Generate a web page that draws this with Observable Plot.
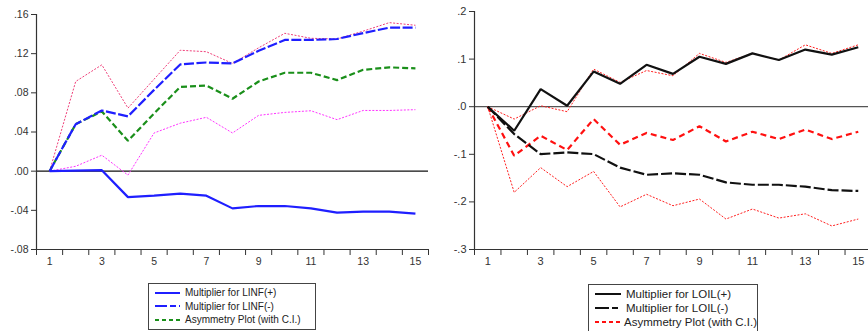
<!DOCTYPE html>
<html><head><meta charset="utf-8">
<script src="https://cdn.jsdelivr.net/npm/d3@7"></script>
<script src="https://cdn.jsdelivr.net/npm/@observablehq/plot@0.6"></script>
<style>
body{margin:0;background:#fff;font-family:"Liberation Sans",Arial,sans-serif;}
#wrap{position:relative;width:868px;height:331px;overflow:hidden;background:#fff;}
.panel{position:absolute;top:0;}
.legend{position:absolute;border:1px solid #444;background:#fff;color:#222;}
.legend .row{display:flex;align-items:center;white-space:nowrap;}
.legend svg{display:block;}
</style></head><body>
<div id="wrap"></div>
<script>
const horizon = d3.range(1, 16);
const oddTicks = [1,3,5,7,9,11,13,15];
const boundaryTicks = d3.range(0.5, 16, 1);

// Left panel (LINF)
const linfPos = [0,0.0005,0.001,-0.0265,-0.025,-0.023,-0.025,-0.038,-0.0356,-0.0356,-0.038,-0.0424,-0.0414,-0.0414,-0.0434];
const linfNeg = [0,0.048,0.062,0.056,0.083,0.109,0.111,0.110,0.123,0.134,0.134,0.135,0.141,0.1466,0.1466];
const linfAsym = [0,0.048,0.061,0.031,0.059,0.086,0.0875,0.074,0.0916,0.1005,0.1005,0.093,0.1035,0.106,0.105];
const linfUpper = [0,0.0916,0.1086,0.0644,0.094,0.1235,0.122,0.110,0.126,0.1408,0.1357,0.135,0.143,0.1517,0.149];
const linfLower = [0,0.005,0.0163,-0.004,0.039,0.049,0.055,0.039,0.057,0.060,0.0617,0.0526,0.062,0.062,0.0628];
const linfYTicks = [0.16,0.12,0.08,0.04,0,-0.04,-0.08];
const linfYLabels = [".16",".12",".08",".04",".00","-.04","-.08"];
const linfLegend = ["Multiplier for LINF(+)","Multiplier for LINF(-)","Asymmetry Plot (with C.I.)"];

// Right panel (LOIL)
const loilPos = [0,-0.0505,0.037,0.002,0.0737,0.048,0.088,0.069,0.105,0.090,0.112,0.098,0.120,0.1095,0.125];
const loilNeg = [0,-0.0575,-0.0996,-0.096,-0.0996,-0.128,-0.143,-0.140,-0.143,-0.159,-0.164,-0.164,-0.168,-0.1754,-0.177];
const loilAsym = [0,-0.103,-0.061,-0.091,-0.026,-0.080,-0.055,-0.070,-0.041,-0.073,-0.0526,-0.068,-0.048,-0.068,-0.0526];
const loilUpper = [0,-0.026,0.002,-0.0105,0.079,0.051,0.076,0.065,0.112,0.093,0.112,0.098,0.130,0.112,0.130];
const loilLower = [0,-0.180,-0.128,-0.168,-0.136,-0.2105,-0.184,-0.208,-0.194,-0.236,-0.215,-0.234,-0.225,-0.2505,-0.236];
const loilYTicks = [0.2,0.1,0,-0.1,-0.2,-0.3];
const loilYLabels = [".2",".1",".0","-.1","-.2","-.3"];
const loilLegend = ["Multiplier for LOIL(+)","Multiplier for LOIL(-)","Asymmetry Plot (with C.I.)"];

function rows(vals){ return horizon.map((h,i)=>({h, v: vals[i]})); }

function panel(opts){
  const {series, yDomain, yTicks, yLabels, width, marginLeft, marginRight, marginTop, fontSize} = opts;
  const labelMap = new Map(yTicks.map((t,i)=>[t, yLabels[i]]));
  const marks = [
    Plot.ruleY([0], {stroke: opts.zeroColor, strokeWidth: 1.2}),
    ...series.map(s => Plot.line(rows(s.values), {x:"h", y:"v", stroke:s.color, strokeWidth:s.width, strokeDasharray:s.dash, strokeLinejoin:"miter", strokeLinecap:"butt"})),
    Plot.ruleX([0.5], {stroke:"#333", strokeWidth:1.2}),
    Plot.ruleY([yDomain[0]], {stroke:"#333", strokeWidth:1.2}),
    Plot.axisY({ticks: yTicks, tickSize: 5, tickPadding: 3, tickFormat: d => labelMap.get(d), stroke:"#333", fill:"#333", fontSize, label:null}),
    Plot.axisX({ticks: boundaryTicks, tickSize: 6, tickFormat: () => "", stroke:"#333", label:null}),
    Plot.axisX({ticks: oddTicks, tickSize: 0, tickPadding: 8, tickFormat: d => String(d), fill:"#333", fontSize, label:null})
  ];
  return Plot.plot({
    width, height: 275, marginLeft, marginRight, marginTop, marginBottom: 26,
    style: {fontFamily: '"Liberation Sans", Arial, sans-serif', background: "transparent", overflow: "visible"},
    x: {domain: [0.5, 15.5]},
    y: {domain: yDomain},
    marks
  });
}

const wrap = document.getElementById("wrap");

const left = panel({
  series: [
    {values: linfUpper, color:"#f0407a", width:1, dash:"2,1.5"},
    {values: linfLower, color:"#ff33ff", width:1, dash:"2,1.5"},
    {values: linfAsym, color:"#1a8f1a", width:2.2, dash:"6,3"},
    {values: linfNeg, color:"#1f1fff", width:2.2, dash:"10,2.5"},
    {values: linfPos, color:"#1f1fff", width:2.2, dash:null}
  ],
  yDomain: [-0.08, 0.16], yTicks: linfYTicks, yLabels: linfYLabels,
  width: 434, marginLeft: 36, marginRight: 6, marginTop: 14, fontSize: "10.5px", zeroColor:"#111"
});
left.classList.add("panel"); left.style.left = "0px";
wrap.appendChild(left);

const right = panel({
  series: [
    {values: loilUpper, color:"#ff2020", width:1, dash:"2,1.5"},
    {values: loilLower, color:"#ff2020", width:1, dash:"2,1.5"},
    {values: loilAsym, color:"#ff1010", width:2.2, dash:"6,4"},
    {values: loilNeg, color:"#111", width:2.2, dash:"11,3"},
    {values: loilPos, color:"#111", width:2.2, dash:null}
  ],
  yDomain: [-0.3, 0.2], yTicks: loilYTicks, yLabels: loilYLabels,
  width: 437, marginLeft: 40, marginRight: 0, marginTop: 11, fontSize: "11px", zeroColor:"#555"
});
right.classList.add("panel"); right.style.left = "434px";
wrap.appendChild(right);

function legend(x, y, w, h, labels, styles, fontSize, rowH, sampleW){
  const box = document.createElement("div");
  box.className = "legend";
  Object.assign(box.style, {left:x+"px", top:y+"px", width:w+"px", height:h+"px", fontSize, padding:"2px 0 0 6px", boxSizing:"border-box"});
  labels.forEach((lab, i) => {
    const r = document.createElement("div");
    r.className = "row"; r.style.height = rowH + "px";
    const s = d3.create("svg").attr("width", sampleW + 5).attr("height", 8);
    s.append("line").attr("x1",0).attr("x2",sampleW).attr("y1",4).attr("y2",4)
      .attr("stroke", styles[i].color).attr("stroke-width", 2)
      .attr("stroke-dasharray", styles[i].dash || null);
    r.appendChild(s.node());
    const t = document.createElement("span"); t.textContent = lab;
    r.appendChild(t);
    box.appendChild(r);
  });
  wrap.appendChild(box);
}

legend(148, 283, 168, 47, linfLegend,
  [{color:"#1f1fff"},{color:"#1f1fff", dash:"12,3,6,3"},{color:"#1a8f1a", dash:"4,3"}], "10px", 13.5, 25);
legend(588, 284, 170, 50, loilLegend,
  [{color:"#111"},{color:"#111", dash:"14,3,6,3"},{color:"#ff1010", dash:"4,3"}], "11.5px", 14, 26);
</script>
</body></html>
